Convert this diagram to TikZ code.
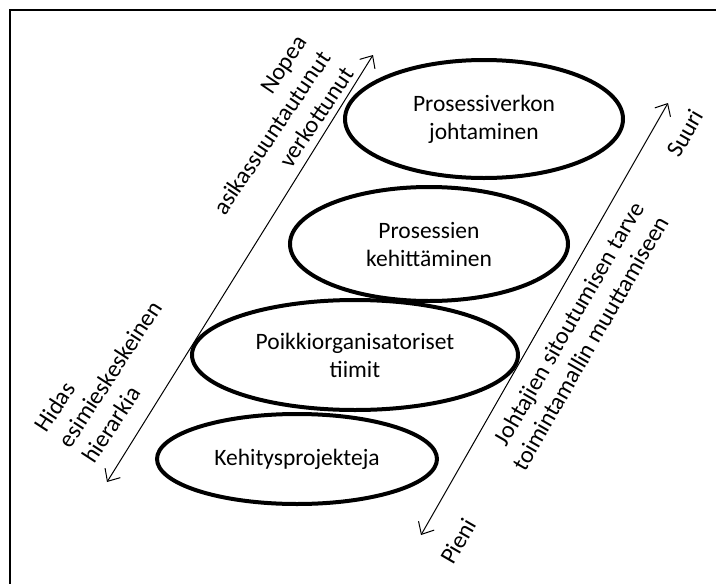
\documentclass[tikz,border=0pt]{standalone}
\usepackage{fontspec}
\setmainfont{Carlito}
\usetikzlibrary{shapes.geometric,arrows.meta}
\begin{document}
\begin{tikzpicture}[x=1pt,y=-1pt,
  lvl/.style={draw,line width=4pt,ellipse,inner sep=0pt,align=center,
    font=\fontsize{23.5}{28}\selectfont},
  axis/.style={line width=1pt,{Straight Barb[length=10pt,width=18pt,line width=1pt]}-{Straight Barb[length=10pt,width=18pt,line width=1pt]}},
  lab/.style={inner sep=0pt,font=\fontsize{24}{28.5}\selectfont}]
\useasboundingbox (0,0) rectangle (716,584);
\draw[line width=1.8pt] (10,600) -- (10,10) -- (730,10);
% ellipses
\node[lvl,minimum width=278pt,minimum height=118pt] (e1) at (484,119) {Prosessiverkon\\johtaminen};
\node[lvl,minimum width=278pt,minimum height=114pt] (e2) at (429,244) {Prosessien\\kehittäminen};
\node[lvl,minimum width=326pt,minimum height=110pt] (e3) at (355,355) {Poikkiorganisatoriset\\tiimit};
\node[lvl,minimum width=280pt,minimum height=90pt] (e4) at (297,459) {Kehitysprojekteja};
% axes
\coordinate (la) at (107,482);
\coordinate (lb) at (373,55);
\coordinate (ra) at (421,535);
\coordinate (rb) at (668,103);
\draw[axis] (la) -- (lb);
\draw[axis] (ra) -- (rb);
% labels
\node[lab,align=right,rotate=56] (nopea) at (272,133) {Nopea\\asikassuuntautunut\\verkottunut};
\node[lab,align=left,rotate=57] (hidas) at (110,374) {Hidas\\esimieskeskeinen\\hierarkia};
\node[lab,align=right,rotate=60] (joht) at (578,336) {Johtajien sitoutumisen tarve\\toimintamallin muuttamiseen};
\node[lab,rotate=60] (suuri) at (685,133) {Suuri};
\node[lab,rotate=60] (pieni) at (458,541) {Pieni};
\end{tikzpicture}
\end{document}
